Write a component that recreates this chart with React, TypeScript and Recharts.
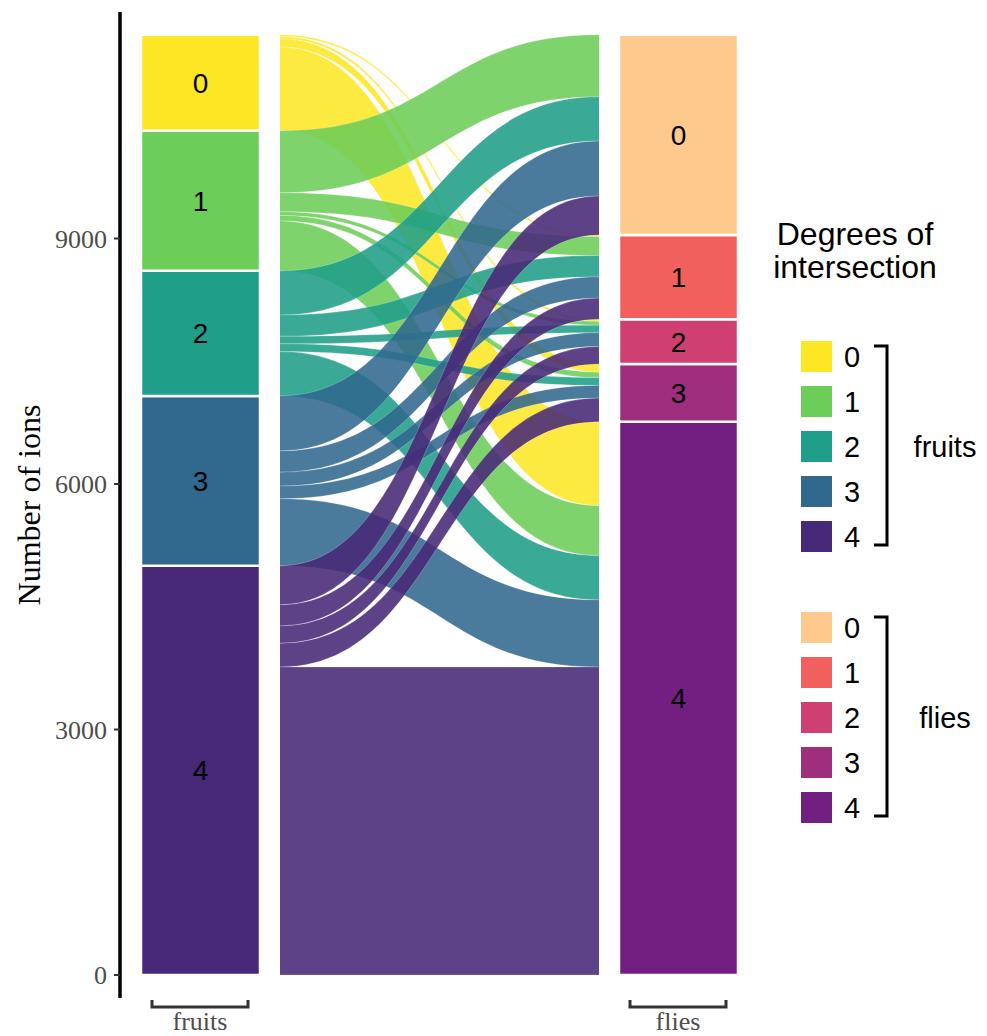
import React from "react";
import { ComposedChart, Bar, Area, XAxis, YAxis, Cell, LabelList } from "recharts";

const LEVELS = ["0", "1", "2", "3", "4"];
const AXES = ["fruits", "flies"];

// ions per fruits degree (one array each), split by flies degree 0..4
const fruits0 = [0, 20, 28, 100, 1025];
const fruits1 = [757, 232, 45, 67, 610];
const fruits2 = [540, 260, 92, 95, 541];
const fruits3 = [672, 260, 170, 155, 820];
const fruits4 = [476, 258, 212, 290, 3764];
const FLOWS = [fruits0, fruits1, fruits2, fruits3, fruits4];

const FRUIT_COLORS = ["#FDE725", "#6DCD59", "#1F9E89", "#31688E", "#482878"];
const FLY_COLORS = ["#FEC98D", "#F1605D", "#CD4071", "#9E2F7F", "#721F81"];
const Y_TICKS = [0, 3000, 6000, 9000];

const SERIF = "'Liberation Serif', 'Times New Roman', serif";
const SANS = "'Liberation Sans', Arial, Helvetica, sans-serif";

const sum = (a: number[]) => a.reduce((s, v) => s + v, 0);
const fruitTotals = FLOWS.map(sum);
const flyTotals = LEVELS.map((_, j) => sum(FLOWS.map((r) => r[j])));
// degree 0 sits on top, so a stratum's top is its own total plus every higher degree
const topOf = (totals: number[], i: number) => sum(totals.slice(i));

const rows: Record<string, any>[] = [
  { axis: AXES[0], pos: 0 },
  { axis: AXES[1], pos: 1 },
];
LEVELS.forEach((_, i) => {
  rows[0][`s${i}`] = fruitTotals[i];
  rows[1][`s${i}`] = flyTotals[i];
});

// lodes: on the fruits side ordered by flies degree, on the flies side by fruits degree
const flowKeys: { key: string; from: number }[] = [];
FLOWS.forEach((row, i) =>
  row.forEach((n, j) => {
    if (!n) return;
    const left = topOf(fruitTotals, i) - sum(row.slice(0, j));
    const right = topOf(flyTotals, j) - sum(FLOWS.slice(0, i).map((r) => r[j]));
    const key = `f${i}${j}`;
    rows[0][key] = [left - n, left];
    rows[1][key] = [right - n, right];
    flowKeys.push({ key, from: i });
  })
);

const BracketTick = (props: any) => {
  const { x, y, payload } = props;
  return (
    <g>
      <path
        d={`M${x - 48},${y + 2} V${y + 9} H${x + 48} V${y + 2}`}
        stroke="#333"
        strokeWidth={3}
        fill="none"
      />
      <text x={x} y={y + 32} textAnchor="middle" fill="#4d4d4d" fontSize={26} fontFamily={SERIF}>
        {AXES[payload.value]}
      </text>
    </g>
  );
};

const YTitle = (props: any) => {
  const vb = props.viewBox || { x: 0, y: 12, width: 120, height: 986 };
  const cx = vb.x + 40;
  const cy = vb.y + vb.height / 2;
  return (
    <text
      x={cx}
      y={cy}
      transform={`rotate(-90 ${cx} ${cy})`}
      textAnchor="middle"
      fill="#000"
      fontSize={32}
      fontFamily={SERIF}
    >
      Number of ions
    </text>
  );
};

const LegendGroup = ({ title, colors, top }: { title: string; colors: string[]; top: number }) => (
  <g>
    {LEVELS.map((l, i) => (
      <g key={l}>
        <rect x={801} y={top + i * 45} width={31} height={31} fill={colors[i]} />
        <text x={844} y={top + i * 45 + 15.5} dominantBaseline="central" fontSize={29} fontFamily={SANS} fill="#000">
          {l}
        </text>
      </g>
    ))}
    <path
      d={`M874,${top + 5} H887 V${top + 4 * 45 + 24} H874`}
      stroke="#000"
      strokeWidth={3}
      fill="none"
    />
    <text x={945} y={top + 2 * 45 + 15.5} dominantBaseline="central" textAnchor="middle" fontSize={29} fontFamily={SANS} fill="#000">
      {title}
    </text>
  </g>
);

export default function App() {
  return (
    <div style={{ position: "absolute", left: 0, top: 0, width: 987, height: 1036, background: "#fff" }}>
      <ComposedChart
        width={760}
        height={1036}
        data={rows}
        margin={{ top: 12, right: 2, bottom: 0, left: 0 }}
      >
        <XAxis
          xAxisId="bars"
          dataKey="pos"
          type="number"
          domain={[0, 1]}
          ticks={[0, 1]}
          interval={0}
          padding={{ left: 80, right: 80 }}
          axisLine={false}
          tickLine={false}
          tickSize={0}
          tickMargin={0}
          height={38}
          tick={BracketTick}
        />
        <XAxis
          xAxisId="flows"
          dataKey="pos"
          type="number"
          domain={[0, 1]}
          padding={{ left: 160, right: 159 }}
          hide
        />
        <YAxis
          type="number"
          domain={[-281, 11768]}
          allowDataOverflow
          ticks={Y_TICKS}
          interval={0}
          width={120}
          axisLine={{ stroke: "#000", strokeWidth: 3.5 }}
          tickLine={{ stroke: "#333", strokeWidth: 2 }}
          tickSize={6}
          tickMargin={7}
          tick={{ fill: "#4d4d4d", fontSize: 26, fontFamily: SERIF }}
          label={{ content: YTitle }}
        />
        {flowKeys.map(({ key, from }) => (
          <Area
            key={key}
            xAxisId="flows"
            dataKey={key}
            type="bumpX"
            fill={FRUIT_COLORS[from]}
            fillOpacity={0.88}
            stroke="#ffffff"
            strokeOpacity={0.35}
            strokeWidth={0.6}
            dot={false}
            activeDot={false}
            isAnimationActive={false}
          />
        ))}
        {LEVELS.map((_, k) => LEVELS.length - 1 - k).map((i) => (
          <Bar
            key={`s${i}`}
            xAxisId="bars"
            dataKey={`s${i}`}
            stackId="strata"
            barSize={119}
            stroke="#fff"
            strokeWidth={2.5}
            isAnimationActive={false}
          >
            <Cell fill={FRUIT_COLORS[i]} />
            <Cell fill={FLY_COLORS[i]} />
            <LabelList
              position="center"
              formatter={() => LEVELS[i]}
              fill="#000"
              fontSize={28}
              fontFamily={SANS}
            />
          </Bar>
        ))}
      </ComposedChart>
      <svg width={987} height={1036} style={{ position: "absolute", left: 0, top: 0, pointerEvents: "none" }}>
        <text x={855} y={245} textAnchor="middle" fontSize={32} fontFamily={SANS} fill="#000">
          Degrees of
        </text>
        <text x={855} y={278} textAnchor="middle" fontSize={32} fontFamily={SANS} fill="#000">
          intersection
        </text>
        <LegendGroup title="fruits" colors={FRUIT_COLORS} top={341} />
        <LegendGroup title="flies" colors={FLY_COLORS} top={612} />
      </svg>
    </div>
  );
}
